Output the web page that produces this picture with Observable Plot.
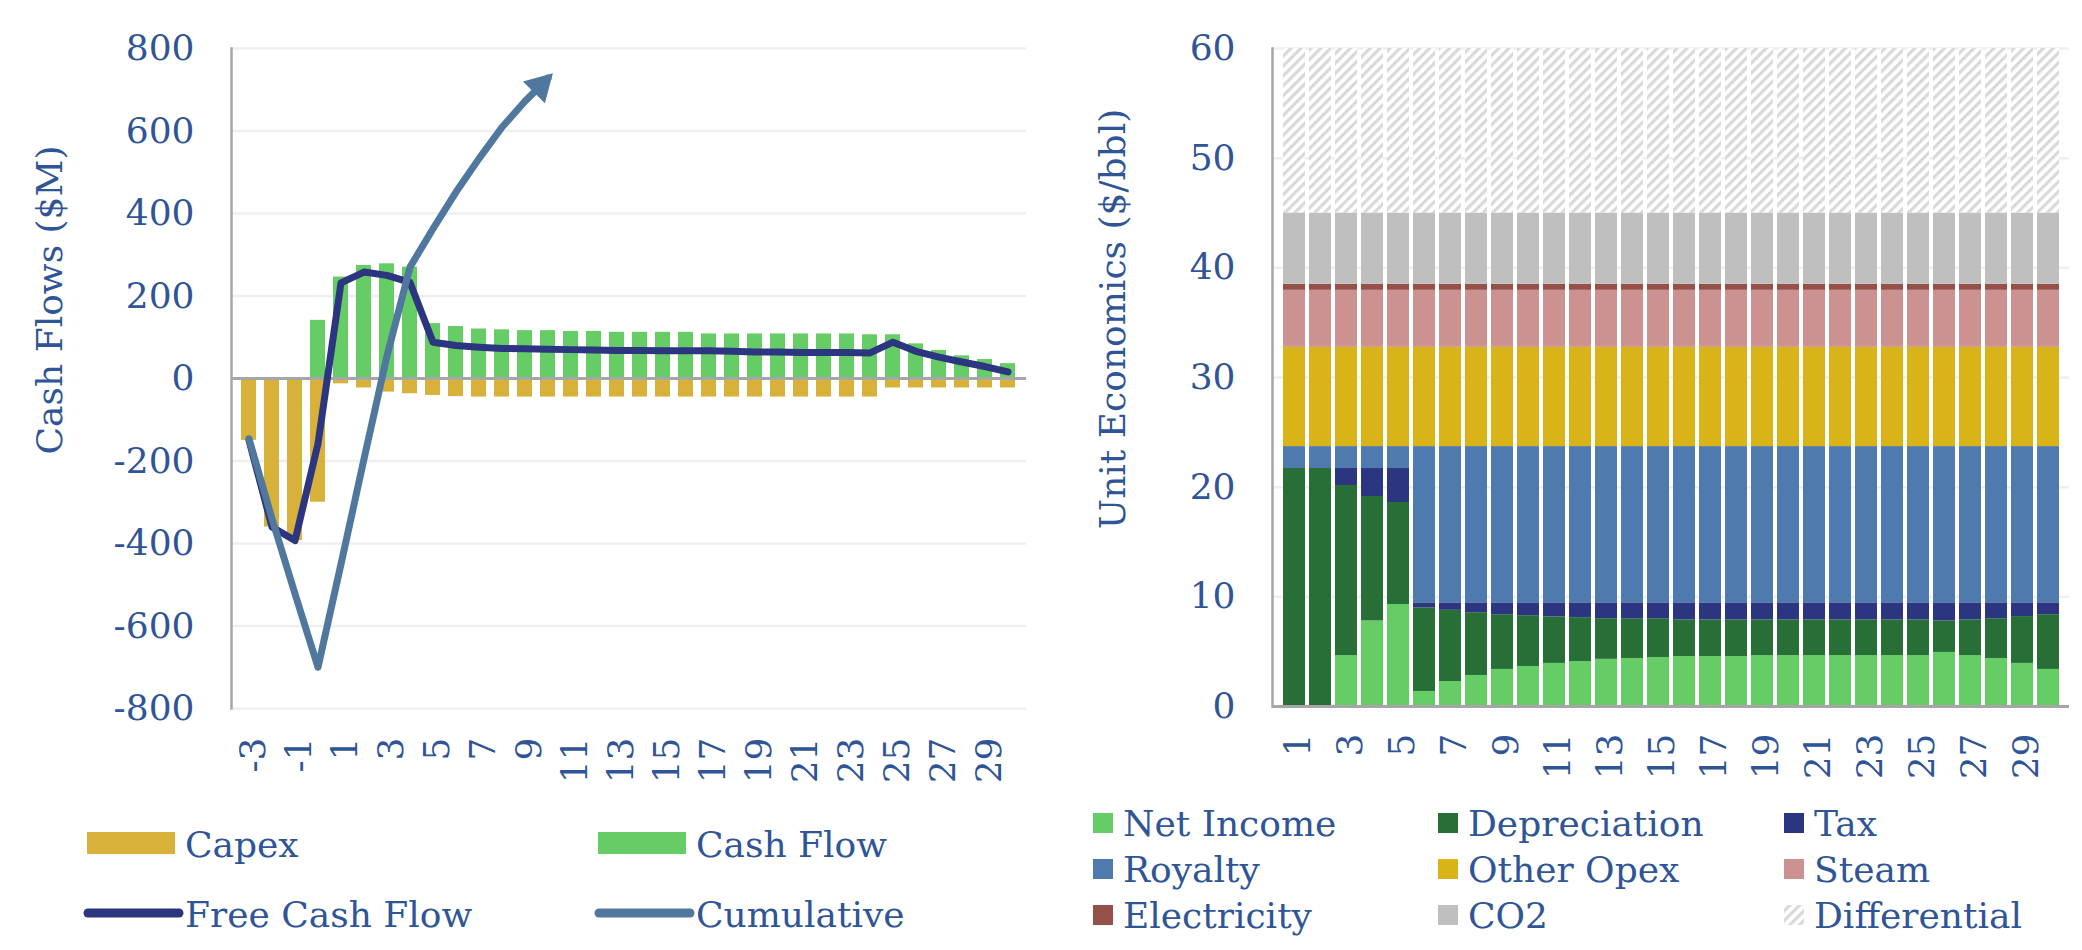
<!DOCTYPE html>
<html>
<head>
<meta charset="utf-8">
<script src="https://cdn.jsdelivr.net/npm/d3@7"></script>
<script src="https://cdn.jsdelivr.net/npm/@observablehq/plot@0.6"></script>
<style>
  html, body { margin: 0; padding: 0; background: #ffffff; }
  #page { position: relative; width: 2082px; height: 950px; overflow: hidden; background: #ffffff; }
  #left, #right { position: absolute; top: 0; }
  #left { left: 0; }
  #right { left: 1040px; }
  #overlay { position: absolute; left: 0; top: 0; pointer-events: none; }
</style>
</head>
<body>
<div id="page">
  <div id="left"></div>
  <div id="right"></div>
  <svg id="overlay" width="2082" height="950" xmlns="http://www.w3.org/2000/svg"></svg>
</div>
<script>
// ---------------- Left chart data: cash flows ($M) ----------------
const cfYears = [-3,-2,-1,0,1,2,3,4,5,6,7,8,9,10,11,12,13,14,15,16,17,18,19,20,21,22,23,24,25,26,27,28,29,30];
const capex = [-150,-360,-393,-300,-13,-23,-33,-37,-41,-44,
  -45,-45,-45,-45,-45,-45,-45,-45,-45,-45,-45,-45,-45,-45,-45,-45,-45,-45,
  -23,-23,-23,-23,-23,-23];
const cashFlow = [0,0,0,141,246,274,278,270,133,126,
  120,118,116,116,114,114,112,112,112,112,108,108,108,108,108,108,108,106,
  106,84,68,55,46,36];
const freeCashFlow = [-150,-360,-393,-158,232,258,250,233,88,80,
  76,73,72,71,70,69,68,68,67,67,67,66,64,64,63,63,63,62,
  88,66,52,40,29,16];
const cumYears = [-3,-2,-1,0,1,2,3,4,5,6,7,8,9,10];
const cumulative = [-146,-340,-522,-700,-450,-195,55,270,363,452,533,609,672,728];
const leftYTicks = [-800,-600,-400,-200,0,200,400,600,800];
const leftXTicks = [-3,-1,1,3,5,7,9,11,13,15,17,19,21,23,25,27,29];
const leftYLabel = "Cash Flows ($M)";
const leftLegendLabels = ["Capex", "Cash Flow", "Free Cash Flow", "Cumulative"];

// ---------------- Right chart data: unit economics ($/bbl) ----------------
const ueYears = [1,2,3,4,5,6,7,8,9,10,11,12,13,14,15,16,17,18,19,20,21,22,23,24,25,26,27,28,29,30];
const netIncome = [0,0,4.65,7.8,9.3,1.37,2.28,2.83,3.38,3.65,3.93,4.1,4.3,4.38,4.47,4.56,4.56,4.56,4.65,4.65,4.65,4.65,4.65,4.65,4.65,4.93,4.65,4.38,3.93,3.38];
const depreciation = [21.7,21.7,15.5,11.35,9.3,7.63,6.49,5.72,4.99,4.63,4.23,4.0,3.7,3.62,3.53,3.34,3.34,3.34,3.25,3.25,3.25,3.25,3.25,3.25,3.25,2.87,3.25,3.62,4.27,4.99];
const tax = [0,0,1.55,2.55,3.1,0.45,0.68,0.9,1.08,1.17,1.29,1.35,1.45,1.45,1.45,1.55,1.55,1.55,1.55,1.55,1.55,1.55,1.55,1.55,1.55,1.65,1.55,1.45,1.25,1.08];
const royalty = [2,2,2,2,2,14.25,14.25,14.25,14.25,14.25,14.25,14.25,14.25,14.25,14.25,14.25,14.25,14.25,14.25,14.25,14.25,14.25,14.25,14.25,14.25,14.25,14.25,14.25,14.25,14.25];
const otherOpex = [9.05,9.05,9.05,9.05,9.05,9.05,9.05,9.05,9.05,9.05,9.05,9.05,9.05,9.05,9.05,9.05,9.05,9.05,9.05,9.05,9.05,9.05,9.05,9.05,9.05,9.05,9.05,9.05,9.05,9.05];
const steam = [5.2,5.2,5.2,5.2,5.2,5.2,5.2,5.2,5.2,5.2,5.2,5.2,5.2,5.2,5.2,5.2,5.2,5.2,5.2,5.2,5.2,5.2,5.2,5.2,5.2,5.2,5.2,5.2,5.2,5.2];
const electricity = [0.55,0.55,0.55,0.55,0.55,0.55,0.55,0.55,0.55,0.55,0.55,0.55,0.55,0.55,0.55,0.55,0.55,0.55,0.55,0.55,0.55,0.55,0.55,0.55,0.55,0.55,0.55,0.55,0.55,0.55];
const co2 = [6.5,6.5,6.5,6.5,6.5,6.5,6.5,6.5,6.5,6.5,6.5,6.5,6.5,6.5,6.5,6.5,6.5,6.5,6.5,6.5,6.5,6.5,6.5,6.5,6.5,6.5,6.5,6.5,6.5,6.5];
const differential = [15,15,15,15,15,15,15,15,15,15,15,15,15,15,15,15,15,15,15,15,15,15,15,15,15,15,15,15,15,15];
const ueSeriesNames = ["Net Income","Depreciation","Tax","Royalty","Other Opex","Steam","Electricity","CO2","Differential"];
const ueSeriesValues = [netIncome, depreciation, tax, royalty, otherOpex, steam, electricity, co2, differential];
const rightYTicks = [0,10,20,30,40,50,60];
const rightXTicks = [1,3,5,7,9,11,13,15,17,19,21,23,25,27,29];
const rightYLabel = "Unit Economics ($/bbl)";

// ---------------- Styles ----------------
const TEXT = "#2F5597";
const GRID = "#EFEFEF";
const AXIS = "#A6A6A6";
const FONT = "DejaVu Serif";
const capexColor = "#D8B13A";
const cashColor = "#66CC66";
const fcfColor = "#2C3580";
const cumColor = "#50789E";
const ueColors = ["#66CC66","#276F36","#2C3580","#4F7AAD","#D8B418","#CC9191","#945049","#BFBFBF","url(#diffHatch)"];

const plotStyle = {fontFamily: FONT, fontSize: "36px", color: TEXT, background: "none", overflow: "visible"};
const fmt = d => String(d);

// ---------------- Left chart ----------------
const capexData = cfYears.map((y, i) => ({year: y, value: capex[i]}));
const cashData = cfYears.map((y, i) => ({year: y, value: cashFlow[i]}));
const fcfData = cfYears.map((y, i) => ({year: y, value: freeCashFlow[i]}));
const cumData = cumYears.map((y, i) => ({year: y, value: cumulative[i]}));

function leftChart(extra) {
  return Plot.plot({
    width: 1040, height: 790,
    marginTop: 48, marginBottom: 82, marginLeft: 231, marginRight: 14,
    style: plotStyle,
    x: {type: "band", domain: cfYears, paddingInner: 0.34, paddingOuter: 0.17},
    y: {domain: [-800, 800]},
    marks: [
      Plot.ruleY(leftYTicks, {stroke: GRID, strokeWidth: 2.5}),
      Plot.frame({anchor: "left", stroke: AXIS, strokeWidth: 2.5}),
      Plot.barY(capexData, {x: "year", y: "value", fill: capexColor}),
      Plot.barY(cashData, {x: "year", y: "value", fill: cashColor}),
      Plot.ruleY([0], {stroke: AXIS, strokeWidth: 3}),
      Plot.line(fcfData, {x: "year", y: "value", stroke: fcfColor, strokeWidth: 7, strokeLinejoin: "round", strokeLinecap: "round"}),
      Plot.line(cumData, {x: "year", y: "value", stroke: cumColor, strokeWidth: 7, strokeLinejoin: "round"}),
      ...extra,
      Plot.axisY({ticks: leftYTicks, tickFormat: fmt, tickSize: 0, tickPadding: 37, label: null, fontSize: 36}),
      Plot.axisX({ticks: leftXTicks, tickFormat: fmt, tickSize: 0, tickPadding: 29, tickRotate: -90, label: null, fontSize: 36, dx: 4})
    ]
  });
}

// first pass: read the scales to orient the arrow head along the last segment
const probe = leftChart([]);
const sx = probe.scale("x"), sy = probe.scale("y");
const n = cumData.length;
const ddx = sx.apply(cumData[n - 1].year) - sx.apply(cumData[n - 2].year);
const ddy = sy.apply(cumData[n - 1].value) - sy.apply(cumData[n - 2].value);
const len = Math.hypot(ddx, ddy);
const ux = ddx / len, uy = ddy / len;
const arrowAngle = Math.atan2(ux, -uy) * 180 / Math.PI;

const left = leftChart([
  Plot.dot([cumData[n - 1]], {x: "year", y: "value", symbol: "triangle", r: 11.5, fill: cumColor, stroke: "none",
    rotate: arrowAngle, dx: -11 * ux, dy: -11 * uy})
]);
document.getElementById("left").appendChild(left);

// ---------------- Right chart ----------------
const ueData = [];
ueSeriesNames.forEach((name, s) => {
  ueYears.forEach((y, i) => ueData.push({year: y, series: name, value: ueSeriesValues[s][i]}));
});

const right = Plot.plot({
  width: 1042, height: 790,
  marginTop: 48, marginBottom: 84, marginLeft: 232, marginRight: 13,
  style: plotStyle,
  x: {type: "band", domain: ueYears, paddingInner: 0.17, paddingOuter: 0.085},
  y: {domain: [0, 60]},
  color: {type: "ordinal", domain: ueSeriesNames, range: ueColors},
  marks: [
    Plot.ruleY(rightYTicks, {stroke: GRID, strokeWidth: 2.5}),
    Plot.barY(ueData, {x: "year", y: "value", fill: "series", order: null}),
    Plot.frame({anchor: "left", stroke: AXIS, strokeWidth: 2.5}),
    Plot.ruleY([0], {stroke: AXIS, strokeWidth: 3}),
    Plot.axisY({ticks: rightYTicks, tickFormat: fmt, tickSize: 0, tickPadding: 37, label: null, fontSize: 36}),
    Plot.axisX({ticks: rightXTicks, tickFormat: fmt, tickSize: 0, tickPadding: 27, tickRotate: -90, label: null, fontSize: 36, dx: 4})
  ]
});
document.getElementById("right").appendChild(right);

// hatch pattern for "Differential"
function addHatch(svgEl, id) {
  const ns = "http://www.w3.org/2000/svg";
  const defs = document.createElementNS(ns, "defs");
  const pat = document.createElementNS(ns, "pattern");
  pat.setAttribute("id", id);
  pat.setAttribute("patternUnits", "userSpaceOnUse");
  pat.setAttribute("width", "7");
  pat.setAttribute("height", "7");
  pat.setAttribute("patternTransform", "rotate(45)");
  const bg = document.createElementNS(ns, "rect");
  bg.setAttribute("width", "7"); bg.setAttribute("height", "7"); bg.setAttribute("fill", "#ffffff");
  const st = document.createElementNS(ns, "rect");
  st.setAttribute("width", "3.2"); st.setAttribute("height", "7"); st.setAttribute("fill", "#D9D9D9");
  pat.appendChild(bg); pat.appendChild(st);
  defs.appendChild(pat);
  svgEl.insertBefore(defs, svgEl.firstChild);
}
addHatch(right.tagName.toLowerCase() === "svg" ? right : right.querySelector("svg"), "diffHatch");

// ---------------- Overlay: axis titles and legends ----------------
const ov = document.getElementById("overlay");
const NS = "http://www.w3.org/2000/svg";
function el(tag, attrs, text) {
  const e = document.createElementNS(NS, tag);
  for (const k in attrs) e.setAttribute(k, attrs[k]);
  if (text !== undefined) e.textContent = text;
  ov.appendChild(e);
  return e;
}
addHatch(ov, "diffHatchLegend");

const textAttrs = {"font-family": FONT, "font-size": 36, fill: TEXT};
el("text", Object.assign({transform: "translate(49,300) rotate(-90)", "text-anchor": "middle", "dominant-baseline": "central"}, textAttrs), leftYLabel);
el("text", Object.assign({transform: "translate(1112,319) rotate(-90)", "text-anchor": "middle", "dominant-baseline": "central"}, textAttrs), rightYLabel);

// left legend
const leftLegendKinds = [
  {kind: "rect", color: capexColor, col: 0, row: 0},
  {kind: "rect", color: cashColor, col: 1, row: 0},
  {kind: "line", color: fcfColor, col: 0, row: 1},
  {kind: "line", color: cumColor, col: 1, row: 1}
];
const llColX = [87, 598];
const llRowY = [843, 913];
leftLegendLabels.forEach((label, i) => {
  const k = leftLegendKinds[i];
  const x0 = llColX[k.col], cy = llRowY[k.row];
  if (k.kind === "rect") {
    el("rect", {x: x0, y: cy - 11, width: 88, height: 22, fill: k.color});
  } else {
    el("line", {x1: x0 + 1, x2: x0 + 92, y1: cy, y2: cy, stroke: k.color, "stroke-width": 9, "stroke-linecap": "round"});
  }
  el("text", Object.assign({x: x0 + 98, y: cy + 14}, textAttrs), label);
});

// right legend
const rlColX = [1093, 1438, 1784];
const rlRowY = [823, 869, 915];
ueSeriesNames.forEach((name, i) => {
  const col = i % 3, row = Math.floor(i / 3);
  const x0 = rlColX[col], cy = rlRowY[row];
  const fill = name === "Differential" ? "url(#diffHatchLegend)" : ueColors[i];
  el("rect", {x: x0, y: cy - 10, width: 20, height: 20, fill: fill});
  el("text", Object.assign({x: x0 + 30, y: cy + 13}, textAttrs), name);
});
</script>
</body>
</html>
